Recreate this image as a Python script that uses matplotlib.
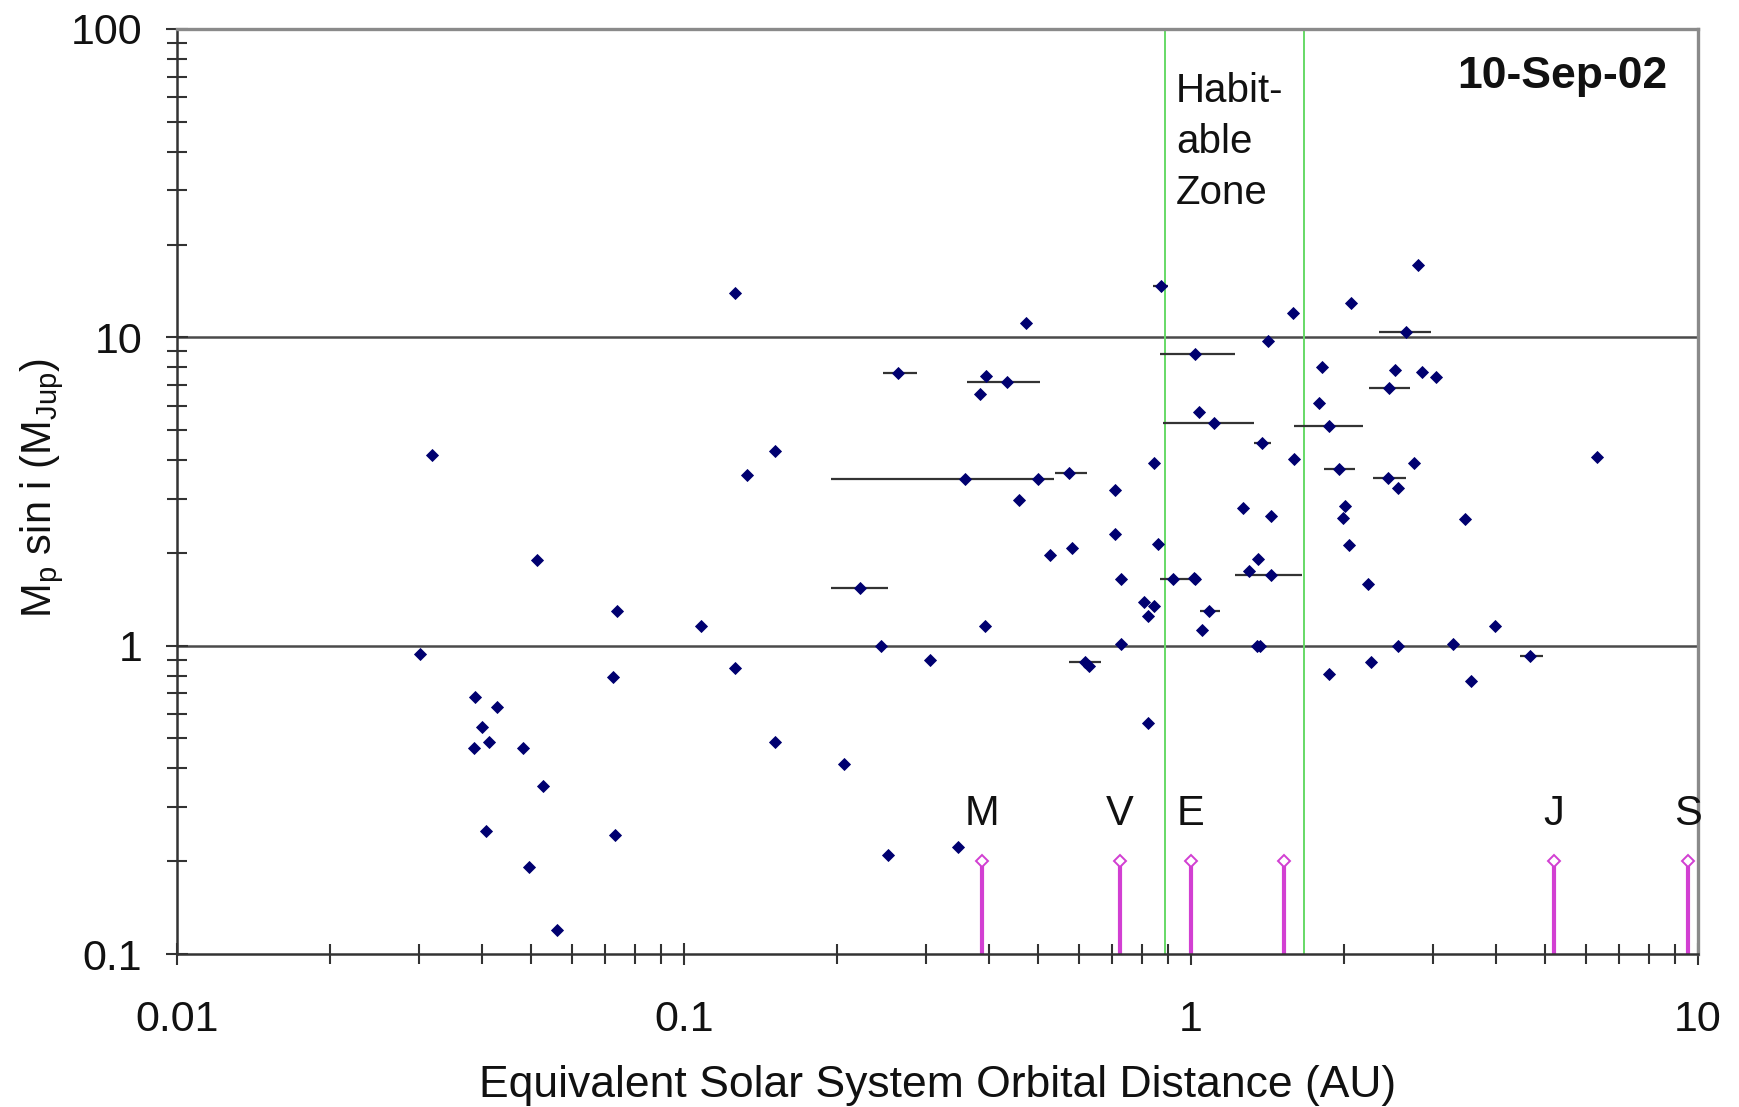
import matplotlib
matplotlib.use('Agg')
import matplotlib.pyplot as plt
import numpy as np
from matplotlib.ticker import FixedLocator, NullFormatter, FixedFormatter

plt.rcParams['font.family'] = ['Liberation Sans', 'DejaVu Sans']

# ---- Data ----
dist = [0.0302, 0.0319, 0.0387, 0.0399, 0.0385, 0.0413, 0.0428, 0.0406, 0.0481, 0.0494,
        0.0513, 0.0527, 0.0561, 0.0739, 0.0724, 0.0730, 0.108, 0.1263, 0.126, 0.133,
        0.151, 0.151, 0.222, 0.2064, 0.245, 0.253, 0.2647, 0.305, 0.347, 0.359,
        0.383, 0.395, 0.434, 0.393, 0.473, 0.457, 0.499, 0.527, 0.575, 0.582,
        0.619, 0.630, 0.709, 0.709, 0.727, 0.727, 0.806, 0.846, 0.823, 0.824,
        0.846, 0.861, 0.872, 0.923, 1.014, 1.02, 1.02, 1.039, 1.108, 1.05,
        1.087, 1.266, 1.30, 1.358, 1.38, 1.35, 1.365, 1.42, 1.435, 1.435,
        1.588, 1.60, 1.79, 1.81, 1.873, 1.87, 1.956, 2.01, 1.995, 2.05,
        2.07, 2.23, 2.26, 2.46, 2.445, 2.53, 2.56, 2.56, 2.653, 2.75,
        2.805, 2.86, 3.04, 3.29, 3.47, 3.57, 3.97, 4.67, 6.31]
mass = [0.937, 4.15, 0.681, 0.544, 0.464, 0.486, 0.632, 0.250, 0.464, 0.192,
        1.90, 0.351, 0.120, 1.30, 0.791, 0.243, 1.155, 13.9, 0.849, 3.58,
        4.28, 0.486, 1.54, 0.412, 0.997, 0.210, 7.67, 0.901, 0.222, 3.475,
        6.55, 7.49, 7.17, 1.155, 11.16, 2.97, 3.475, 1.97, 3.62, 2.08,
        0.885, 0.862, 3.19, 2.30, 1.64, 1.01, 1.39, 1.34, 1.245, 0.562,
        3.91, 2.14, 14.68, 1.64, 1.66, 1.65, 8.81, 5.74, 5.26, 1.12,
        1.295, 2.79, 1.75, 1.905, 4.53, 1.0, 0.995, 9.75, 2.64, 1.69,
        11.96, 4.02, 6.11, 8.02, 5.16, 0.811, 3.74, 2.83, 2.60, 2.12,
        12.9, 1.58, 0.885, 6.83, 3.49, 7.83, 3.24, 1.0, 10.43, 3.91,
        17.1, 7.73, 7.45, 1.01, 2.57, 0.766, 1.155, 0.923, 4.09]

# horizontal error bars: centre, mass, lower and upper distance
eb_dist = [0.222, 0.2647, 0.359, 0.434, 0.575, 0.619, 0.872, 0.923, 1.02, 1.108,
           1.087, 1.38, 1.435, 1.873, 1.956, 2.46, 2.445, 2.653, 4.67]
eb_mass = [1.54, 7.67, 3.475, 7.17, 3.62, 0.885, 14.68, 1.64, 8.81, 5.26,
           1.295, 4.53, 1.69, 5.16, 3.74, 6.83, 3.49, 10.43, 0.923]
eb_lo = [0.1946, 0.247, 0.1946, 0.362, 0.539, 0.574, 0.84, 0.87, 0.87, 0.879,
         1.044, 1.33, 1.223, 1.597, 1.83, 2.24, 2.29, 2.35, 4.45]
eb_hi = [0.253, 0.288, 0.536, 0.504, 0.623, 0.665, 0.90, 1.02, 1.22, 1.334,
         1.143, 1.44, 1.656, 2.18, 2.105, 2.70, 2.66, 2.98, 4.95]

planet_labels = ['M', 'V', 'E', '', 'J', 'S']
planet_dist = [0.387, 0.723, 1.0, 1.524, 5.20, 9.54]
planet_mark = 0.2
planet_label_y = 0.262

habitable_zone = [0.89, 1.67]
grid_levels = [1, 10]

x_ticks = [0.01, 0.1, 1, 10]
x_ticklabels = ['0.01', '0.1', '1', '10']
y_ticks = [0.1, 1, 10, 100]
y_ticklabels = ['0.1', '1', '10', '100']

W, H = 1739, 1107
fig = plt.figure(figsize=(W / 100, H / 100), dpi=100)
L, R, T, B = 177, 1698, 29, 954
ax = fig.add_axes([L / W, 1 - B / H, (R - L) / W, (B - T) / H])
ax.set_xscale('log')
ax.set_yscale('log')
ax.set_xlim(0.01, 10)
ax.set_ylim(0.1, 100)

for g in grid_levels:
    ax.axhline(g, color='#4a4a4a', lw=1.8, zorder=1)
for hz in habitable_zone:
    ax.axvline(hz, color='#66d966', lw=1.4, zorder=1)

xd = np.array(eb_dist)
ax.errorbar(eb_dist, eb_mass, xerr=[xd - np.array(eb_lo), np.array(eb_hi) - xd],
            fmt='none', ecolor='#333333', elinewidth=1.6, capsize=0, zorder=2)

ax.plot(dist, mass, linestyle='none', marker='D', ms=6.6, color='#000070',
        mec='#000070', mew=0.6, zorder=3)

ax.vlines(planet_dist, 0.1, planet_mark, color='#d23fd2', lw=3.0, zorder=2)
ax.plot(planet_dist, [planet_mark] * len(planet_dist), linestyle='none', marker='D',
        ms=6.0, mfc='white', mec='#d23fd2', mew=1.4, zorder=3, clip_on=False)
for lab, d in zip(planet_labels, planet_dist):
    if lab:
        ax.text(d, planet_label_y, lab, ha='center', va='baseline', fontsize=30,
                color='#111111', zorder=4)

ax.text(0.935, 0.953, 'Habit-\nable\nZone', transform=ax.get_xaxis_transform(),
        ha='left', va='top', fontsize=29, linespacing=1.42, color='#111111')
ax.text(0.980, 0.936, '10-Sep-02', transform=ax.transAxes, ha='right', va='baseline',
        fontsize=32, fontweight='bold', color='#111111')

# spines
for s in ['top', 'right']:
    ax.spines[s].set_color('#8a8a8a')
    ax.spines[s].set_linewidth(2.4)
for s in ['left', 'bottom']:
    ax.spines[s].set_color('#333333')
    ax.spines[s].set_linewidth(1.8)

ax.xaxis.set_major_locator(FixedLocator(x_ticks))
ax.xaxis.set_major_formatter(FixedFormatter(x_ticklabels))
ax.yaxis.set_major_locator(FixedLocator(y_ticks))
ax.yaxis.set_major_formatter(FixedFormatter(y_ticklabels))
minor_x = [m * 10.0 ** e for e in (-2, -1, 0) for m in range(2, 10)]
minor_y = [m * 10.0 ** e for e in (-1, 0, 1) for m in range(2, 10)]
ax.xaxis.set_minor_locator(FixedLocator(minor_x))
ax.yaxis.set_minor_locator(FixedLocator(minor_y))
ax.xaxis.set_minor_formatter(NullFormatter())
ax.yaxis.set_minor_formatter(NullFormatter())
ax.tick_params(which='both', direction='inout', color='#333333', width=1.5,
               top=False, right=False)
ax.tick_params(which='major', length=16, labelsize=31, labelcolor='#111111')
ax.tick_params(which='minor', length=14)
ax.tick_params(axis='x', which='major', pad=25)
ax.tick_params(axis='y', which='major', pad=17)

fig.text((L + R) / 2 / W, 1 - 1097 / H, 'Equivalent Solar System Orbital Distance (AU)',
         ha='center', va='baseline', fontsize=32, color='#111111')
fig.text(42 / W, 1 - 488 / H, r'M$_\mathregular{p}$ sin i (M$_\mathregular{Jup}$)',
         ha='center', va='center', rotation=90, fontsize=30, color='#111111')

fig.savefig('out.png', dpi=100)
